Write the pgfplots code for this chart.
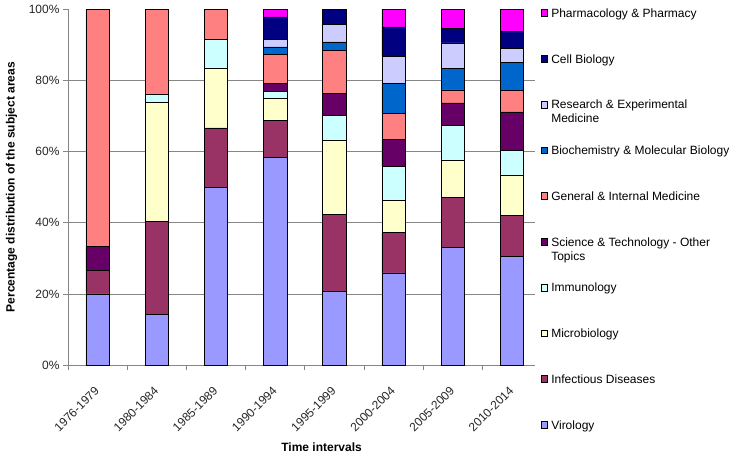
\documentclass[border=0pt]{standalone}
\usepackage{pgfplots}
\pgfplotsset{compat=1.18}
\usepackage{pgfplotstable}
\usepackage{fontspec}
\setmainfont{Liberation Sans}
\definecolor{cvir}{HTML}{9999FF}
\definecolor{cinf}{HTML}{993366}
\definecolor{cmic}{HTML}{FFFFCC}
\definecolor{cimm}{HTML}{CCFFFF}
\definecolor{csci}{HTML}{660066}
\definecolor{cgen}{HTML}{FF8080}
\definecolor{cbio}{HTML}{0066CC}
\definecolor{cres}{HTML}{CCCCFF}
\definecolor{ccel}{HTML}{000080}
\definecolor{cpha}{HTML}{FF00FF}
\definecolor{axgray}{HTML}{868686}
\pgfplotstableread{
x vir inf mic imm sci gen bio res cel pha
0 20.0 6.7 0.0 0.0 6.7 66.6 0 0 0 0
1 14.3 26.2 33.3 2.4 0 23.8 0 0 0 0
2 50.0 16.7 16.7 8.3 0 8.3 0 0 0 0
3 58.3 10.4 6.2 2.1 2.1 8.3 2.1 2.1 6.3 2.1
4 20.7 21.6 20.8 7.1 6.3 12.1 2.3 5.0 4.1 0
5 25.9 11.4 9.1 9.4 7.6 7.3 8.4 7.7 8.3 4.9
6 33.0 14.2 10.5 9.8 6.2 3.7 6.0 7.2 4.0 5.4
7 30.6 11.4 11.5 6.8 10.9 6.1 7.9 3.8 4.9 6.1
}\data
\newcommand{\fnt}{\fontsize{12bp}{14bp}\selectfont}
\begin{document}
\begin{tikzpicture}[font=\fnt]
\path[use as bounding box] (-68bp,-90bp) rectangle (671bp,365bp);
\begin{axis}[
  at={(0,0)}, anchor=south west,
  scale only axis, width=467bp, height=355.5bp,
  ybar stacked, bar width=23.3bp,
  ymin=0, ymax=100, xmin=-0.5, xmax=7.39,
  axis x line*=bottom, axis y line*=left,
  axis line style={draw=axgray, line width=0.7bp},
  every tick/.style={draw=axgray, line width=0.7bp},
  tick align=outside, major tick length=5bp, minor tick length=5bp,
  ytick={0,20,40,60,80,100},
  yticklabels={0\%,20\%,40\%,60\%,80\%,100\%},
  extra y ticks={20,40,60,80}, extra y tick labels={},
  extra y tick style={grid=major},
  major grid style={draw=axgray, line width=0.7bp},
  xtick={-0.5,0.5,...,6.5},
  minor xtick={-0.5,0.5,...,6.5},
  xticklabels={1976-1979,1980-1984,1985-1989,1990-1994,1995-1999,2000-2004,2005-2009,2010-2014},
  tick label style={font=\fnt, text=black!85},
  xticklabel style={xshift=26bp, yshift=-14bp, rotate=45, anchor=north east, inner sep=1bp},
  xlabel={Time intervals},
  ylabel={Percentage distribution of the subject areas},
  label style={font=\fnt\bfseries},
  xlabel style={at={(axis description cs:0.543,0)}, anchor=center, yshift=-82bp},
  ylabel style={at={(axis description cs:-0.121,0.5)}, anchor=center},
  every axis plot/.append style={draw=black, line width=0.6bp},
  reverse legend,
  legend image code/.code={\draw[#1] (0bp,1bp) rectangle (6.6bp,7.6bp);},
  legend style={draw=none, fill=none, at={(axis description cs:1,1)}, anchor=north west,
    xshift=5.7bp, yshift=1.2bp, inner sep=0pt, outer sep=0pt, row sep=0pt, column sep=3.4bp,
    cells={anchor=base west},
    nodes={inner sep=0pt, anchor=base west, text height=9bp, text depth=36.75bp, font=\fnt}},
]
\addplot[fill=cvir] table[x=x,y=vir]{\data};
\addplot[fill=cinf] table[x=x,y=inf]{\data};
\addplot[fill=cmic] table[x=x,y=mic]{\data};
\addplot[fill=cimm] table[x=x,y=imm]{\data};
\addplot[fill=csci] table[x=x,y=sci]{\data};
\addplot[fill=cgen] table[x=x,y=gen]{\data};
\addplot[fill=cbio] table[x=x,y=bio]{\data};
\addplot[fill=cres] table[x=x,y=res]{\data};
\addplot[fill=ccel] table[x=x,y=cel]{\data};
\addplot[fill=cpha] table[x=x,y=pha]{\data};
\legend{Virology,Infectious Diseases,Microbiology,Immunology,
  {\vtop{\hbox{Science \& Technology - Other}\hbox{Topics}}},
  General \& Internal Medicine,
  Biochemistry \& Molecular Biology,
  {\vtop{\hbox{Research \& Experimental}\hbox{Medicine}}},
  Cell Biology,Pharmacology \& Pharmacy}
\end{axis}
\end{tikzpicture}
\end{document}
